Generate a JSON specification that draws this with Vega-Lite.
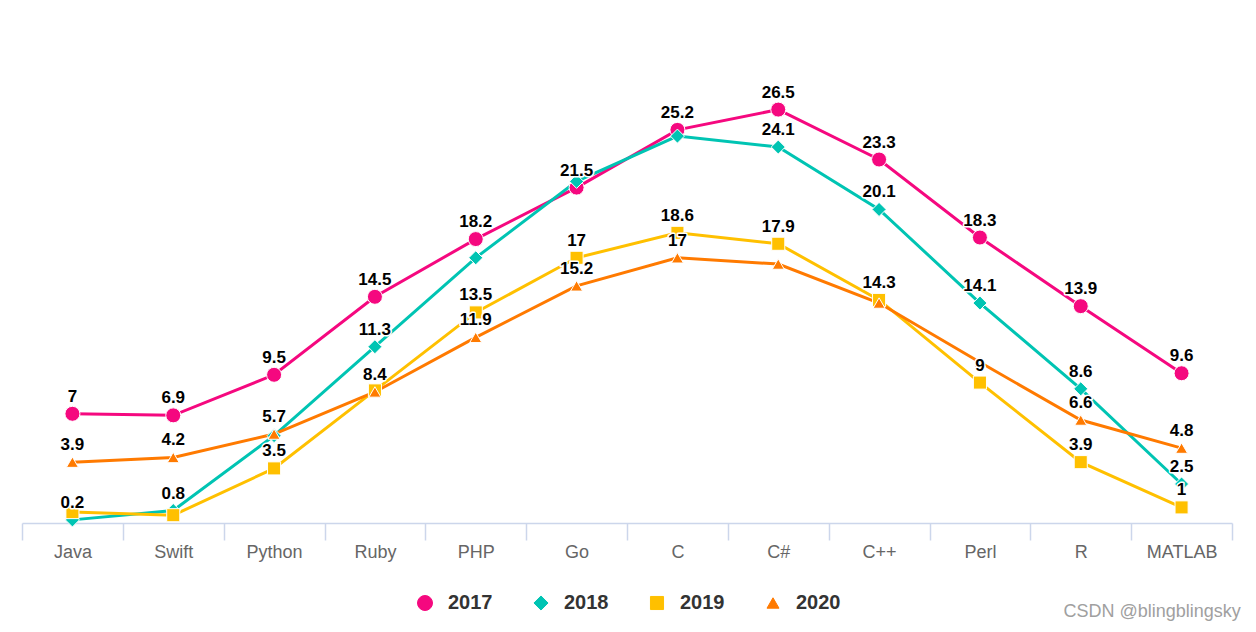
{
  "$schema": "https://vega.github.io/schema/vega-lite/v6.json",
  "width": 1210,
  "height": 468,
  "autosize": "none",
  "padding": {"left": 22, "top": 55, "right": 24, "bottom": 109},
  "background": "white",
  "title": {"text": "CSDN @blingblingsky", "orient": "bottom", "anchor": "end", "fontSize": 18, "fontWeight": "normal", "color": "#a0a0a0", "font": "Liberation Sans", "offset": -10, "dx": 8},
  "config": {"view": {"stroke": null}, "font": "Liberation Sans"},
  "data": {"values": [
    {"lang": "Java", "year": "2017", "value": 7, "label": true},
    {"lang": "Swift", "year": "2017", "value": 6.9, "label": true},
    {"lang": "Python", "year": "2017", "value": 9.5, "label": true},
    {"lang": "Ruby", "year": "2017", "value": 14.5, "label": true},
    {"lang": "PHP", "year": "2017", "value": 18.2, "label": true},
    {"lang": "Go", "year": "2017", "value": 21.5, "label": true},
    {"lang": "C", "year": "2017", "value": 25.2, "label": true},
    {"lang": "C#", "year": "2017", "value": 26.5, "label": true},
    {"lang": "C++", "year": "2017", "value": 23.3, "label": true},
    {"lang": "Perl", "year": "2017", "value": 18.3, "label": true},
    {"lang": "R", "year": "2017", "value": 13.9, "label": true},
    {"lang": "MATLAB", "year": "2017", "value": 9.6, "label": true},
    {"lang": "Java", "year": "2018", "value": 0.2, "label": true},
    {"lang": "Swift", "year": "2018", "value": 0.8, "label": true},
    {"lang": "Python", "year": "2018", "value": 5.6, "label": false},
    {"lang": "Ruby", "year": "2018", "value": 11.3, "label": true},
    {"lang": "PHP", "year": "2018", "value": 17.0, "label": false},
    {"lang": "Go", "year": "2018", "value": 21.9, "label": false},
    {"lang": "C", "year": "2018", "value": 24.8, "label": false},
    {"lang": "C#", "year": "2018", "value": 24.1, "label": true},
    {"lang": "C++", "year": "2018", "value": 20.1, "label": true},
    {"lang": "Perl", "year": "2018", "value": 14.1, "label": true},
    {"lang": "R", "year": "2018", "value": 8.6, "label": true},
    {"lang": "MATLAB", "year": "2018", "value": 2.5, "label": true},
    {"lang": "Java", "year": "2019", "value": 0.7, "label": false},
    {"lang": "Swift", "year": "2019", "value": 0.5, "label": false},
    {"lang": "Python", "year": "2019", "value": 3.5, "label": true},
    {"lang": "Ruby", "year": "2019", "value": 8.5, "label": false},
    {"lang": "PHP", "year": "2019", "value": 13.5, "label": true},
    {"lang": "Go", "year": "2019", "value": 17, "label": true},
    {"lang": "C", "year": "2019", "value": 18.6, "label": true},
    {"lang": "C#", "year": "2019", "value": 17.9, "label": true},
    {"lang": "C++", "year": "2019", "value": 14.3, "label": true},
    {"lang": "Perl", "year": "2019", "value": 9, "label": true},
    {"lang": "R", "year": "2019", "value": 3.9, "label": true},
    {"lang": "MATLAB", "year": "2019", "value": 1, "label": true},
    {"lang": "Java", "year": "2020", "value": 3.9, "label": true},
    {"lang": "Swift", "year": "2020", "value": 4.2, "label": true},
    {"lang": "Python", "year": "2020", "value": 5.7, "label": true},
    {"lang": "Ruby", "year": "2020", "value": 8.4, "label": true},
    {"lang": "PHP", "year": "2020", "value": 11.9, "label": true},
    {"lang": "Go", "year": "2020", "value": 15.2, "label": true},
    {"lang": "C", "year": "2020", "value": 17, "label": true},
    {"lang": "C#", "year": "2020", "value": 16.6, "label": false},
    {"lang": "C++", "year": "2020", "value": 14.1, "label": false},
    {"lang": "Perl", "year": "2020", "value": 10.3, "label": false},
    {"lang": "R", "year": "2020", "value": 6.6, "label": true},
    {"lang": "MATLAB", "year": "2020", "value": 4.8, "label": true}
  ]},
  "encoding": {
    "x": {
      "field": "lang", "type": "nominal",
      "sort": ["Java", "Swift", "Python", "Ruby", "PHP", "Go", "C", "C#", "C++", "Perl", "R", "MATLAB"],
      "scale": {"type": "band", "paddingInner": 0, "paddingOuter": 0},
      "axis": {"title": null, "labelAngle": 0, "labelFontSize": 18, "labelColor": "#666666", "labelPadding": 3, "tickSize": 17, "tickBand": "extent", "tickColor": "#ccd6eb", "domainColor": "#ccd6eb", "domainWidth": 1.5, "tickWidth": 1.5, "grid": false, "labelOverlap": false}
    },
    "y": {"field": "value", "type": "quantitative", "scale": {"domain": [0, 30]}, "axis": null}
  },
  "layer": [
    {
      "mark": {"type": "line", "strokeWidth": 3},
      "encoding": {
        "color": {"field": "year", "type": "nominal", "scale": {"domain": ["2017", "2018", "2019", "2020"], "range": ["#F5087F", "#00C4B3", "#FFC000", "#FF7A00"]}}
      }
    },
    {
      "mark": {"type": "point", "filled": true, "opacity": 1, "stroke": "white", "strokeWidth": 1},
      "encoding": {
        "color": {"field": "year", "type": "nominal", "scale": {"domain": ["2017", "2018", "2019", "2020"], "range": ["#F5087F", "#00C4B3", "#FFC000", "#FF7A00"]},
          "legend": {"orient": "none", "legendX": 393, "legendY": 538, "direction": "horizontal", "title": null, "labelFontSize": 20, "labelFontWeight": "bold", "labelColor": "#333333", "labelOffset": 13, "columnPadding": 38, "padding": 0, "symbolStrokeColor": "white", "symbolStrokeWidth": 1}},
        "shape": {"field": "year", "type": "nominal", "scale": {"domain": ["2017", "2018", "2019", "2020"], "range": ["circle", "diamond", "square", "triangle-up"]}},
        "size": {"field": "year", "type": "nominal", "scale": {"domain": ["2017", "2018", "2019", "2020"], "range": [225, 144, 196, 220]}}
      }
    },
    {
      "transform": [{"filter": "datum.label"}],
      "mark": {"type": "text", "dy": -17, "fontSize": 17, "fontWeight": "bold", "fill": "white", "stroke": "white", "strokeWidth": 3, "strokeJoin": "round"},
      "encoding": {"text": {"field": "value", "type": "quantitative", "format": ".1~f"}}
    },
    {
      "transform": [{"filter": "datum.label"}],
      "mark": {"type": "text", "dy": -17, "fontSize": 17, "fontWeight": "bold", "fill": "black"},
      "encoding": {"text": {"field": "value", "type": "quantitative", "format": ".1~f"}}
    }
  ]
}
